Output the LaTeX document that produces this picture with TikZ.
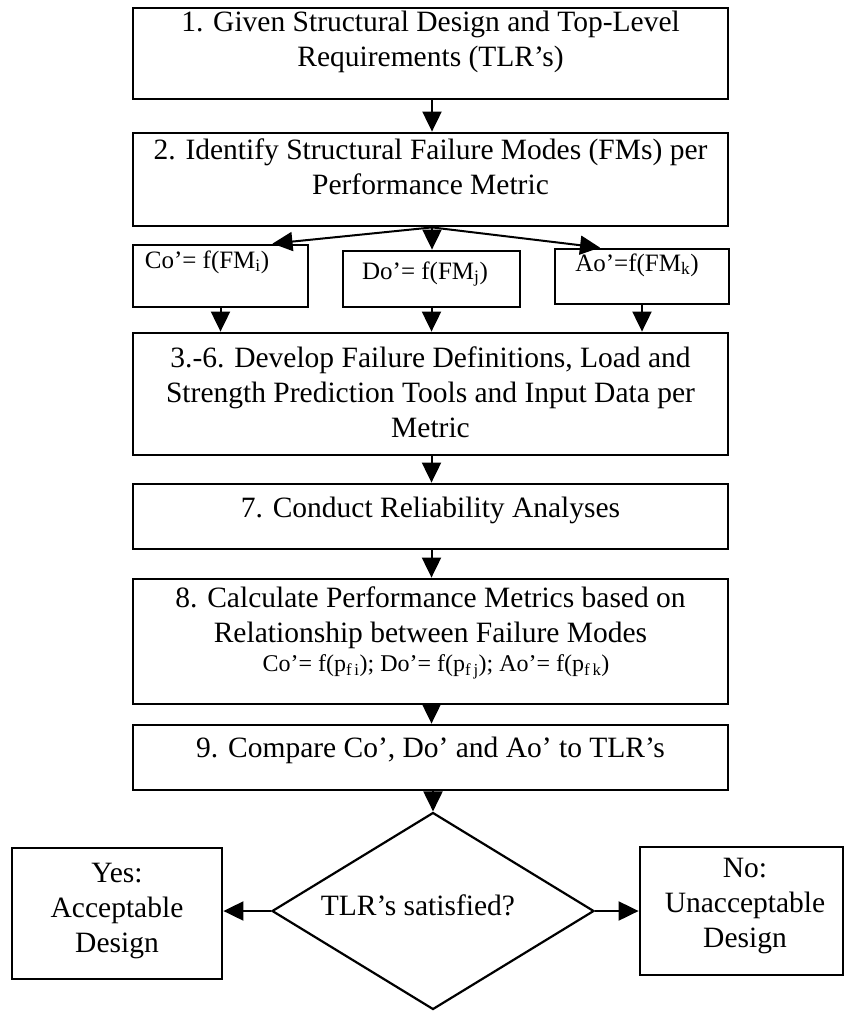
\documentclass[tikz,border=0pt]{standalone}
\usepackage{fontspec}
\setmainfont{Liberation Serif}
\usetikzlibrary{arrows.meta,shapes.geometric}
\begin{document}
\begin{tikzpicture}[x=1pt,y=-1pt,
  box/.style={draw, line width=2.8pt, inner sep=0pt},
  txt/.style={inner sep=0pt, align=center, font=\fontsize{29.5}{35}\selectfont},
  smalltxt/.style={inner sep=0pt, align=center, font=\fontsize{25}{30}\selectfont},
  formtxt/.style={inner sep=0pt, align=center, font=\fontsize{24}{28}\selectfont},
  arr/.style={line width=2pt, -{Triangle[length=20pt,width=19pt]}},
  dia/.style={draw, diamond, line width=2.2pt, inner sep=0pt}]
\useasboundingbox (0,0) rectangle (845,1011);

% boxes
\node[box, minimum width=595pt, minimum height=91pt]  (b1)  at (430.5,53.5) {};
\node[box, minimum width=595pt, minimum height=93pt]  (b2)  at (430.5,179.5) {};
\node[box, minimum width=175pt, minimum height=62pt]  (co)  at (220.5,276) {};
\node[box, minimum width=177pt, minimum height=56pt]  (do)  at (431.5,279) {};
\node[box, minimum width=174pt, minimum height=55pt]  (ao)  at (642,276.5) {};
\node[box, minimum width=595pt, minimum height=122pt] (b36) at (430.5,394) {};
\node[box, minimum width=595pt, minimum height=65pt]  (b7)  at (430.5,516.5) {};
\node[box, minimum width=595pt, minimum height=125pt] (b8)  at (430.5,641.5) {};
\node[box, minimum width=595pt, minimum height=65pt]  (b9)  at (430.5,757.5) {};
\node[dia, minimum width=322pt, minimum height=197pt] (d)   at (433,911) {};
\node[box, minimum width=210pt, minimum height=131pt] (yes) at (117,913.5) {};
\node[box, minimum width=203pt, minimum height=128pt] (no)  at (741.5,911) {};

% texts
\node[txt] (t1) at (430.5,42) {1. Given Structural Design and Top-Level\\Requirements (TLR’s)};
\node[txt] (t2) at (430.5,167) {2. Identify Structural Failure Modes (FMs) per\\Performance Metric};
\node[smalltxt] (tco) at (207,262) {Co’= f(FM\textsubscript{i})};
\node[smalltxt] (tdo) at (425,274) {Do’= f(FM\textsubscript{j})};
\node[smalltxt] (tao) at (637,265) {Ao’=f(FM\textsubscript{k})};
\node[txt] (t36) at (430.5,392) {3.-6. Develop Failure Definitions, Load and\\Strength Prediction Tools and Input Data per\\Metric};
\node[txt] (t7) at (430.5,510) {7. Conduct Reliability Analyses};
\node[txt] (t8) at (430.5,618) {8. Calculate Performance Metrics based on\\Relationship between Failure Modes};
\node[formtxt] (t8f) at (436,667) {Co’= f(p\textsubscript{f\,i}); Do’= f(p\textsubscript{f\,j}); Ao’= f(p\textsubscript{f\,k})};
\node[txt] (t9) at (430.5,750) {9. Compare Co’, Do’ and Ao’ to TLR’s};
\node[txt] (td) at (418,905) {TLR’s satisfied?};
\node[txt] (tyes) at (117,911) {Yes:\\Acceptable\\Design};
\node[txt] (tno) at (745,906) {No:\\Unacceptable\\Design};

% connectors
\coordinate (split) at ([xshift=1.5pt]b2.south);
\draw[arr] ([xshift=1.5pt]b1.south) -- ([xshift=1.5pt]b2.north);
\draw[arr] (split) -- ([xshift=52pt]co.north);
\draw[arr] (split) -- (split |- do.north);
\draw[arr] (split) -- ([xshift=-42pt]ao.north);
\draw[arr] (co.south) -- (co.south |- b36.north);
\draw[arr] (do.south) -- (do.south |- b36.north);
\draw[arr] (ao.south) -- (ao.south |- b36.north);
\draw[arr] ([xshift=1pt]b36.south) -- ([xshift=1pt]b7.north);
\draw[arr] ([xshift=1pt]b7.south) -- ([xshift=1pt]b8.north);
\draw[arr] ([xshift=1pt]b8.south) -- ([xshift=1pt]b9.north);
\draw[arr] (b9.south -| d.north) -- (d.north);
\draw[arr] (d.west) -- (d.west -| yes.east);
\draw[arr] (d.east) -- (d.east -| no.west);
\end{tikzpicture}
\end{document}
